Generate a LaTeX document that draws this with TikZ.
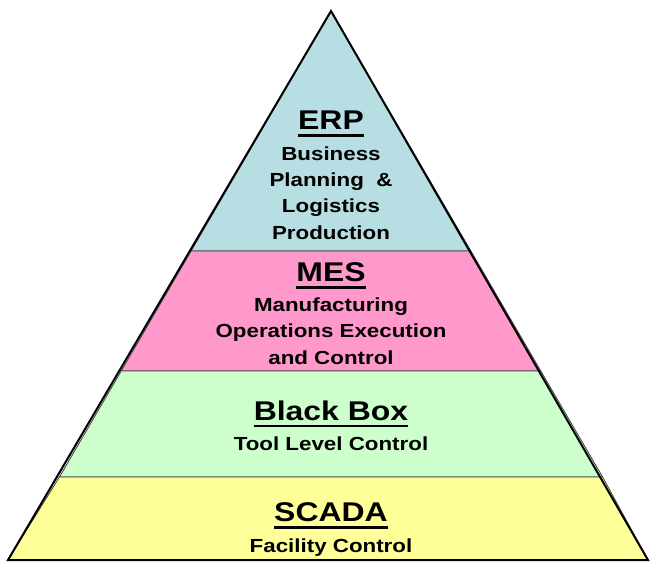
\documentclass[tikz,border=0pt]{standalone}
\usepackage{fontspec}
\setmainfont{Liberation Sans}
\newfontfamily\bandfont[FakeStretch=1.18]{Liberation Sans}
% thick rule under the level names
\newcommand{\bandtitle}[1]{\setbox0\hbox{#1}\rlap{\rule[-5.4pt]{\wd0}{2pt}}\box0}
\tikzset{every picture/.style={line width=0.75pt}}
\tikzset{
  band/.style={draw={rgb, 255:red, 60; green, 60; blue, 60 }, line width=0.6pt},
  title/.style={inner sep=0pt, anchor=base, font=\bandfont\fontsize{20.3}{22}\selectfont\bfseries},
  body/.style={inner sep=0pt, anchor=base, align=center, font=\bandfont\fontsize{14.2}{19.8}\selectfont\bfseries}
}

\begin{document}
\begin{tikzpicture}[x=0.75pt,y=0.75pt,yscale=-1,xscale=1]
	\useasboundingbox (0,0) rectangle (650,562);

	%Shape: Triangle top [id:erp]
	\draw  [band][fill={rgb, 255:red, 183; green, 222; blue, 226 }  ,fill opacity=1 ] (331,11) -- (470.9,251) -- (191.1,251) -- cycle ;
	%Shape: Trapezoid [id:mes]
	\draw  [band][fill={rgb, 255:red, 255; green, 153; blue, 204 }  ,fill opacity=1 ] (191.1,251) -- (470.9,251) -- (540.8,371) -- (121.2,371) -- cycle ;
	%Shape: Trapezoid [id:blackbox]
	\draw  [band][fill={rgb, 255:red, 204; green, 255; blue, 204 }  ,fill opacity=1 ] (121.2,371) -- (540.8,371) -- (602.6,477) -- (59.4,477) -- cycle ;
	%Shape: Trapezoid [id:scada]
	\draw  [band][fill={rgb, 255:red, 255; green, 255; blue, 153 }  ,fill opacity=1 ] (59.4,477) -- (602.6,477) -- (648,560) -- (8,560) -- cycle ;
	%Shape: Triangle outline
	\draw  [line width=1.5pt, line join=miter] (331,11) -- (648,560) -- (8,560) -- cycle ;

	% Text Node (base = last line)
	\node [title] (erpTitle) at (331,129.5) {\bandtitle{ERP}};
	\node [body] (erpText) at (331,239.3) {Business\\Planning \ \&\\Logistics\\Production};
	% Text Node
	\node [title] (mesTitle) at (331,281.5) {\bandtitle{MES}};
	\node [body] (mesText) at (331,364) {Manufacturing\\Operations Execution\\and Control};
	% Text Node
	\node [title] (bbTitle) at (331,420) {\bandtitle{Black Box}};
	\node [body] (bbText) at (331,450.5) {Tool Level Control};
	% Text Node
	\node [title] (scadaTitle) at (331,521.5) {\bandtitle{SCADA}};
	\node [body] (scadaText) at (331,552.5) {Facility Control};

\end{tikzpicture}
\end{document}
